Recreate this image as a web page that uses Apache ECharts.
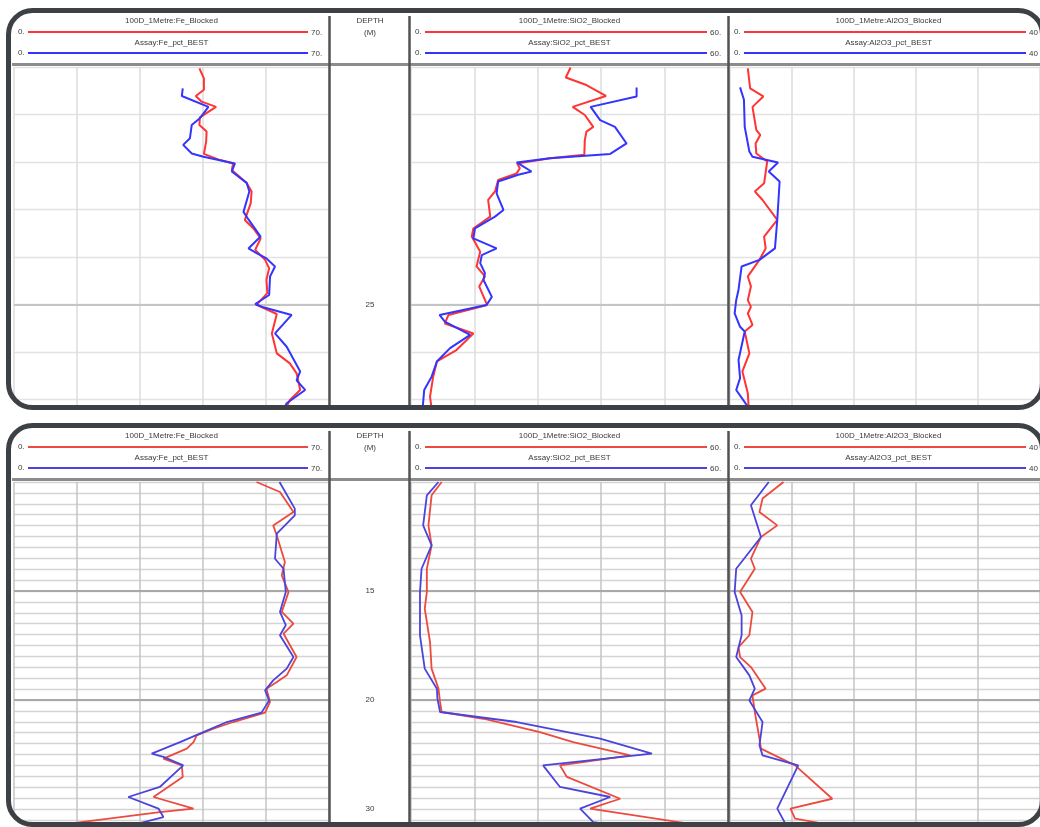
<!DOCTYPE html>
<html><head><meta charset="utf-8">
<script src="https://cdn.jsdelivr.net/npm/echarts@6/dist/echarts.min.js"></script>
<style>html,body{margin:0;padding:0;background:#fff;}#c{width:1040px;height:827px;}</style>
</head><body><div id="c"></div><script>
// ---------- DATA : [depth (m), value (%)] ----------
const topFeBlocked = [[20.03,41.2],[20.24,42.2],[20.48,42.2],[20.61,40.4],[20.73,41.7],[20.84,44.9],[21.06,41.3],[21.22,41.2],[21.36,42.8],[21.57,42.7],[21.83,42.2],[21.96,45.8],[22.03,48.7],[22.17,48.4],[22.44,51.7],[22.62,52.8],[22.87,52.6],[23.22,51.3],[23.40,53.2],[23.61,54.8],[23.85,53.6],[24.06,55.8],[24.24,56.7],[24.48,56.1],[24.76,56.3],[25.01,53.9],[25.20,58.4],[25.61,57.3],[26.03,58.4],[26.24,61.3],[26.45,62.8],[26.80,63.6],[27.01,61.3],[27.19,60.4]];
const topFeAssay = [[20.45,37.5],[20.61,37.3],[20.84,43.2],[21.08,41.3],[21.22,39.5],[21.50,39.1],[21.64,37.6],[21.82,39.5],[21.89,42.1],[22.03,49.1],[22.20,48.4],[22.44,51.7],[22.62,52.3],[23.05,51.0],[23.21,52.1],[23.57,54.8],[23.82,52.1],[23.92,53.9],[24.03,56.1],[24.20,58.0],[24.41,56.9],[24.80,56.7],[24.99,53.6],[25.06,55.4],[25.22,61.7],[25.61,58.0],[25.89,60.6],[26.41,63.6],[26.60,62.8],[26.80,64.7],[27.08,60.6],[27.19,60.0]];
const topSiO2Blocked = [[20.01,30.2],[20.22,29.3],[20.38,33.2],[20.61,36.9],[20.84,30.6],[21.01,32.9],[21.26,34.5],[21.36,33.2],[21.54,32.9],[21.85,32.8],[21.92,26.3],[22.03,20.1],[22.13,20.6],[22.24,20.0],[22.38,16.5],[22.62,15.9],[22.80,14.6],[23.15,15.0],[23.40,11.8],[23.57,11.5],[23.89,13.1],[24.20,12.4],[24.41,14.0],[24.62,12.9],[25.01,14.4],[25.22,7.1],[25.40,6.4],[25.61,11.8],[25.96,8.6],[26.20,4.9],[26.52,4.2],[26.94,3.6],[27.19,3.9]];
const topSiO2Assay = [[20.43,42.7],[20.62,42.7],[20.84,34.0],[21.12,35.8],[21.26,38.6],[21.61,40.8],[21.83,37.7],[21.92,26.3],[22.01,20.0],[22.20,22.8],[22.27,20.3],[22.41,16.5],[22.66,16.2],[23.01,17.5],[23.15,15.9],[23.40,12.1],[23.61,11.8],[23.82,16.2],[23.96,13.4],[24.13,13.1],[24.34,14.0],[24.48,13.7],[24.84,15.3],[25.01,14.3],[25.22,5.4],[25.36,6.4],[25.64,11.2],[25.92,7.4],[26.20,4.9],[26.52,3.9],[26.80,2.5],[27.19,2.2]];
const topAl2O3Blocked = [[20.03,2.3],[20.45,2.6],[20.62,4.3],[20.84,2.9],[21.33,3.4],[21.43,3.9],[21.61,3.3],[21.82,3.4],[21.99,4.8],[22.45,4.4],[22.62,3.2],[22.80,4.2],[23.22,6.1],[23.57,4.4],[23.82,4.6],[24.06,3.8],[24.41,2.3],[24.62,2.7],[24.91,2.3],[25.05,2.7],[25.19,2.3],[25.43,2.9],[25.57,1.9],[26.03,2.5],[26.41,1.6],[26.87,2.3],[27.15,2.4]];
const topAl2O3Assay = [[20.43,1.3],[20.69,1.8],[21.26,1.9],[21.78,2.5],[21.89,2.9],[22.01,6.2],[22.20,5.0],[22.41,6.4],[23.22,6.1],[23.82,5.8],[24.06,3.8],[24.20,1.5],[24.69,1.1],[24.91,0.8],[25.19,0.6],[25.47,1.3],[25.57,1.9],[26.17,1.1],[26.55,1.3],[26.80,0.8],[27.15,2.3]];

const botFeBlocked = [[10.0,53.9],[10.46,59.1],[11.38,62.1],[11.99,57.6],[12.45,58.4],[13.67,60.2],[14.28,59.5],[15.05,61.0],[15.96,59.5],[16.50,62.1],[16.96,59.9],[18.03,62.8],[18.87,60.6],[19.17,58.4],[19.48,56.1],[20.09,56.9],[20.58,55.8],[21.01,48.7],[21.31,44.3],[21.62,40.6],[21.93,39.9],[22.23,38.4],[22.69,33.2],[23.00,37.3],[23.53,37.5],[24.45,31.0],[24.98,39.9],[25.14,32.4],[25.84,5.8]];
const botFeAssay = [[10.0,59.0],[11.22,62.4],[11.53,62.4],[12.37,58.4],[13.52,58.0],[13.98,59.9],[15.05,60.4],[15.96,59.1],[16.57,60.4],[17.03,59.1],[18.03,62.1],[18.56,60.6],[19.10,57.6],[19.56,55.8],[20.02,56.7],[20.58,55.0],[21.01,47.3],[21.54,41.3],[21.93,36.9],[22.46,30.6],[22.61,33.2],[23.00,37.6],[23.99,32.4],[24.45,25.4],[24.98,32.1],[25.37,33.2],[25.84,24.3]];
const botSiO2Blocked = [[10.0,5.8],[10.61,3.9],[11.99,3.3],[12.91,3.9],[13.98,3.0],[15.05,3.0],[15.81,2.6],[17.34,3.6],[18.56,3.9],[19.48,5.2],[20.09,5.5],[20.55,5.8],[20.86,13.7],[21.47,24.4],[21.93,30.7],[22.54,41.5],[23.00,28.2],[23.53,29.5],[24.53,39.6],[24.98,33.9],[25.84,57.2]];
const botSiO2Assay = [[10.0,5.2],[10.61,3.0],[11.99,2.3],[12.91,3.9],[13.98,2.0],[15.05,1.7],[17.03,1.7],[18.56,2.6],[19.48,4.9],[19.94,5.0],[20.55,5.5],[21.01,20.0],[21.77,35.8],[22.46,45.6],[23.00,25.0],[23.99,28.2],[24.45,37.7],[24.98,32.0],[25.60,34.5],[25.84,42.1]];
const botAl2O3Blocked = [[10.0,6.9],[10.76,4.2],[11.38,3.8],[11.99,6.1],[12.52,4.0],[13.52,2.7],[13.98,3.2],[15.05,1.3],[15.96,2.9],[17.03,2.5],[17.57,1.1],[18.03,1.3],[18.49,2.7],[19.48,4.6],[19.79,2.9],[20.55,3.2],[21.77,3.8],[22.23,4.0],[23.00,8.4],[24.53,13.2],[24.98,7.8],[25.44,8.4],[25.84,14.7]];
const botAl2O3Assay = [[10.0,5.0],[11.07,2.7],[12.52,4.0],[13.98,0.8],[15.05,0.6],[16.12,1.5],[17.03,1.5],[18.03,0.8],[18.87,2.5],[19.48,3.2],[20.02,2.5],[21.01,4.2],[22.08,3.8],[22.54,4.2],[23.00,8.8],[24.98,6.1],[25.84,7.4]];

// ---------- TEXT / TICK LABELS ----------
const blockedTitles = ['100D_1Metre:Fe_Blocked','100D_1Metre:SiO2_Blocked','100D_1Metre:Al2O3_Blocked'];
const assayTitles = ['Assay:Fe_pct_BEST','Assay:SiO2_pct_BEST','Assay:Al2O3_pct_BEST'];
const scaleMin = [0,0,0];
const scaleMax = [70,60,40];
const scaleStep = [14,12,8];
const scaleMinLabels = ['0.','0.','0.'];
const scaleMaxLabels = ['70.','60.','40'];
const topDepthTicks = [25];
const topDepthTickLabels = ['25'];
const botDepthTicks = [15,20,25];
const botDepthTickLabels = ['15','20','30'];
const depthTitle = ['DEPTH','(M)'];

// ---------- LAYOUT ----------
const trackX = [[14,329],[411,728],[730,1047]];
const panels = [
  {top:67, bottom:408, min:20, max:27.18, step:1, majors:topDepthTicks, ticks:topDepthTicks, labels:topDepthTickLabels,
   hy:0, frameY:10.5, frameH:397, lw:2, red:'#ff3434', blue:'#3434ff', grid:'#e2e2e2', vgrid:'#dcdcdc', major:'#c4c4c4',
   data:[[topFeBlocked,topFeAssay],[topSiO2Blocked,topSiO2Assay],[topAl2O3Blocked,topAl2O3Assay]]},
  {top:482, bottom:826, min:10, max:25.78, step:0.5, majors:[15,20], ticks:botDepthTicks, labels:botDepthTickLabels,
   hy:415, frameY:425.5, frameH:399, lw:1.8, red:'#ec4a3e', blue:'#4a44dc', grid:'#d4d4d4', vgrid:'#c4c4c4', major:'#a8a8a8',
   data:[[botFeBlocked,botFeAssay],[botSiO2Blocked,botSiO2Assay],[botAl2O3Blocked,botAl2O3Assay]]}
];
const FRAME_X = 8.5, FRAME_W = 1034;

const grids=[], xAxes=[], yAxes=[], series=[], graphics=[];
const FONT = '8px "Liberation Sans", Arial, sans-serif';
function txt(x,y,t,align){
  graphics.push({type:'text', x:x, y:y, z:50, style:{text:t, font:FONT, fill:'#3a3a3a',
    align:align||'center', textAlign:align||'center', verticalAlign:'middle', textVerticalAlign:'middle'}});
}
function ln(x1,y1,x2,y2,c,w,z){
  graphics.push({type:'line', z:z||50, shape:{x1,y1,x2,y2}, style:{stroke:c, lineWidth:w}});
}

panels.forEach((p,pi)=>{
  trackX.forEach((tx,ti)=>{
    const gi = grids.length;
    grids.push({left:tx[0], top:p.top, width:tx[1]-tx[0], height:p.bottom-p.top, containLabel:false});
    xAxes.push({gridIndex:gi, type:'value', min:scaleMin[ti], max:scaleMax[ti], interval:scaleStep[ti],
      axisLine:{show:false}, axisTick:{show:false}, axisLabel:{show:false},
      splitLine:{show:true, lineStyle:{color:p.vgrid, width:1.5}}});
    yAxes.push({gridIndex:gi, type:'value', inverse:true, min:p.min, max:p.max, interval:p.step,
      position:'right', axisLine:{show:false}, axisTick:{show:false},
      axisLabel:{show:ti===0, margin:41, align:'center', color:'#3a3a3a', fontSize:8,
        fontFamily:'"Liberation Sans", Arial, sans-serif',
        formatter:(v)=>{ const k=p.ticks.findIndex(d=>Math.abs(d-v)<1e-6); return k>=0?p.labels[k]:''; }},
      splitLine:{show:true, lineStyle:{color:p.grid, width:1.3}}});
    const [blk, asy] = p.data[ti];
    series.push({type:'line', xAxisIndex:gi, yAxisIndex:gi, data:blk.map(a=>[a[1],a[0]]),
      symbol:'none', showSymbol:false, lineStyle:{color:p.red, width:p.lw}, z:3, silent:true,
      markLine:{silent:true, symbol:['none','none'], label:{show:false}, z:1,
        lineStyle:{color:p.major, width:2, type:'solid'}, data:p.majors.map(d=>({yAxis:d}))}});
    series.push({type:'line', xAxisIndex:gi, yAxisIndex:gi, data:asy.map(a=>[a[1],a[0]]),
      symbol:'none', showSymbol:false, lineStyle:{color:p.blue, width:p.lw}, z:4, silent:true});

    // header for this track
    const hy = p.hy;
    const cx = (tx[0]+tx[1])/2;
    txt(cx, hy+21, blockedTitles[ti]);
    txt(tx[0]+4, hy+32, scaleMinLabels[ti], 'left');
    ln(tx[0]+14, hy+32, tx[1]-21, hy+32, p.red, 2);
    txt(tx[1]-18, hy+32.5, scaleMaxLabels[ti], 'left');
    txt(cx, hy+43, assayTitles[ti]);
    txt(tx[0]+4, hy+53, scaleMinLabels[ti], 'left');
    ln(tx[0]+14, hy+53, tx[1]-21, hy+53, p.blue, 2);
    txt(tx[1]-18, hy+53.5, scaleMaxLabels[ti], 'left');
  });
  // depth header
  txt(370, p.hy+21, depthTitle[0]);
  txt(370, p.hy+33, depthTitle[1]);
  // header band
  ln(12, p.hy+64.5, 1040, p.hy+64.5, '#8c8c8c', 3, 60);
  // separators
  [329.5, 409.5, 728.5].forEach(x=>ln(x, p.hy+16, x, p.bottom, '#505257', 2.5, 60));
  // white mask outside rounded frame (clips grid corners)
  graphics.push({type:'rect', z:95, shape:{x:FRAME_X-8.5, y:p.frameY-8.5, width:FRAME_W+17, height:p.frameH+17, r:32.5},
    style:{fill:'none', stroke:'#ffffff', lineWidth:12}});
  // panel frame
  graphics.push({type:'rect', z:100, shape:{x:FRAME_X, y:p.frameY, width:FRAME_W, height:p.frameH, r:24},
    style:{fill:'none', stroke:'#3d4045', lineWidth:5}});
});

const chart = echarts.init(document.getElementById('c'), null, {renderer:'canvas', width:1040, height:827});
chart.setOption({
  animation:false,
  backgroundColor:'#ffffff',
  grid:grids, xAxis:xAxes, yAxis:yAxes, series:series,
  graphic:{elements:graphics}
});
</script></body></html>
